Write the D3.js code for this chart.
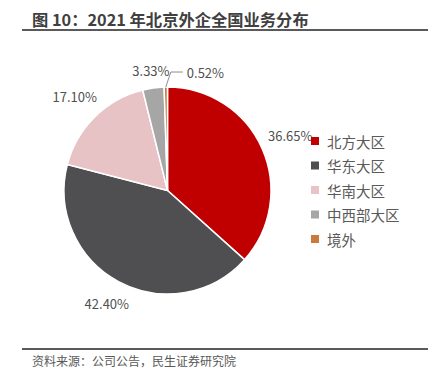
<!DOCTYPE html>
<html><head><meta charset="utf-8">
<script src="https://cdn.jsdelivr.net/npm/d3@7"></script>
<style>body{margin:0;background:#fff;}svg{display:block;}</style>
</head><body>
<svg id="c" width="444" height="380"></svg>
<script>
const categories = ["北方大区","华东大区","华南大区","中西部大区","境外"];
const values = [36.65, 42.40, 17.10, 3.33, 0.52];
const valueLabels = ["36.65%","42.40%","17.10%","3.33%","0.52%"];
const colors = ["#C00000","#4F4F51","#E8C3C5","#A6A6A6","#C97B3F"];
const titleText = "图 10：2021 年北京外企全国业务分布";
const sourceText = "资料来源：公司公告，民生证券研究院";

const svg = d3.select("#c");
const font = "'Noto Sans CJK SC','Noto Sans',sans-serif";

svg.append("text").attr("x",32).attr("y",26).text(titleText)
  .attr("font-family",font).attr("font-weight","bold").attr("font-size",16.3).attr("fill","#404040");
svg.append("line").attr("x1",22).attr("x2",428).attr("y1",30).attr("y2",30).attr("stroke","#5a5a5a").attr("stroke-width",2);
svg.append("line").attr("x1",22).attr("x2",428).attr("y1",349).attr("y2",349).attr("stroke","#5a5a5a").attr("stroke-width",2);
svg.append("text").attr("x",32).attr("y",366).text(sourceText)
  .attr("font-family",font).attr("font-size",12).attr("fill","#595959");

const cx = 167.5, cy = 190.5, r = 103.5;
const g = svg.append("g").attr("transform",`translate(${cx},${cy})`);
const pie = d3.pie().sort(null).value(d=>d);
const arcs = pie(values);
const arc = d3.arc().innerRadius(0).outerRadius(r);
g.selectAll("path").data(arcs).join("path")
  .attr("d",arc).attr("fill",(d,i)=>colors[i]).attr("stroke","#fff").attr("stroke-width",1.5);

// labels
const labelFont = 13;
const R0 = r + 7.5;
arcs.forEach((d,i)=>{
  const a = (d.startAngle+d.endAngle)/2;
  const dx = Math.sin(a), dy = -Math.cos(a);
  const t = g.append("text").text(valueLabels[i])
    .attr("font-family",font).attr("font-size",labelFont).attr("fill","#505050")
    .attr("dominant-baseline","central");
  if (d.endAngle - d.startAngle < 0.05) {
    const p0 = [dx*r, dy*r];
    const p1 = [p0[0]+5, dy*(r+15)];
    const p2 = [p1[0]+12, p1[1]];
    g.append("polyline").attr("points",[p0,p1,p2].map(p=>p.join(",")).join(" "))
      .attr("fill","none").attr("stroke","#8c8c8c").attr("stroke-width",1);
    t.attr("x",p2[0]+4).attr("y",p1[1]).attr("text-anchor","start");
  } else {
    const bb = t.node().getBBox();
    const hw = bb.width/2, hh = 7.5;
    const sup = Math.abs(dx)*hw + Math.abs(dy)*hh;
    const dist = R0 + sup;
    t.attr("x",dx*dist).attr("y",dy*dist).attr("text-anchor","middle");
  }
});

// legend
const lg = svg.append("g");
const rowY = d3.scalePoint().domain(categories).range([141,239]);
categories.forEach((c,i)=>{
  const y = rowY(c);
  lg.append("rect").attr("x",311).attr("y",y-4).attr("width",8).attr("height",8).attr("fill",colors[i]);
  lg.append("text").attr("x",327).attr("y",y).attr("dominant-baseline","central").text(c)
    .attr("font-family",font).attr("font-size",14.5).attr("fill","#595959");
});
</script>
</body></html>
